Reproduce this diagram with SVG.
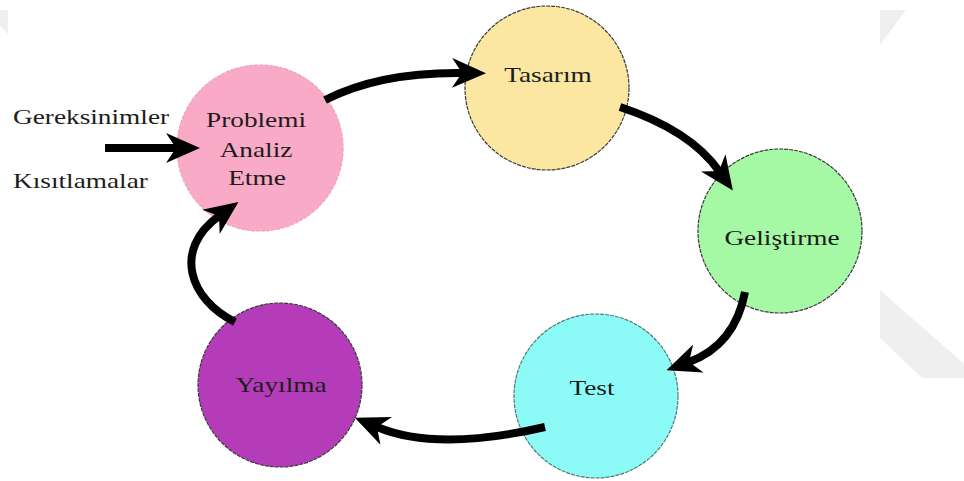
<svg xmlns="http://www.w3.org/2000/svg" width="964" height="481" viewBox="0 0 964 481">
  <style>
    .node circle { stroke: #3a3a3a; stroke-width: 1.2; stroke-dasharray: 4 1; }
    text { font-size: 21px; fill: #1c1c1c; }
    .label { text-anchor: middle; }
    .arrow { fill: none; stroke: #000; stroke-width: 8; marker-end: url(#head); }
    .mark { fill: #efefef; }
  </style>
  <defs>
    <marker id="head" viewBox="0 0 34 30" refX="10" refY="15" markerWidth="34" markerHeight="30" markerUnits="userSpaceOnUse" orient="auto">
      <path d="M0,0 L34,15 L0,30 L10,15 Z" fill="#000"/>
    </marker>
  </defs>
  <rect width="964" height="481" fill="#fff"/>

  <!-- faint corner shapes -->
  <polygon class="mark" points="880,10 906,10 880,45"/>
  <polygon class="mark" points="880,290 964,364 964,378 922,378 880,338"/>
  <polygon class="mark" points="0,10 8,10 8,34 0,26"/>

  <!-- side labels, widened horizontally -->
  <g font-family="Liberation Serif, Times New Roman, serif">
    <text transform="translate(13,124) scale(1.3,1)">Gereksinimler</text>
    <text transform="translate(13,188) scale(1.3,1)">Kısıtlamalar</text>

    <g id="problemi-analiz" class="node">
      <circle cx="260" cy="148" r="83" fill="#F9AAC6" style="stroke:#f0a0bc"/>
      <text class="label" transform="translate(256,127) scale(1.3,1)">Problemi</text>
      <text class="label" transform="translate(256,157) scale(1.3,1)">Analiz</text>
      <text class="label" transform="translate(257,185) scale(1.3,1)">Etme</text>
    </g>

    <g id="tasarim" class="node">
      <circle cx="547" cy="88" r="82" fill="#FBE7A2"/>
      <text class="label" transform="translate(548,82) scale(1.3,1)">Tasarım</text>
    </g>

    <g id="gelistirme" class="node">
      <circle cx="780" cy="231" r="82" fill="#A5F8A4"/>
      <text class="label" transform="translate(782,245) scale(1.3,1)">Geliştirme</text>
    </g>

    <g id="test" class="node">
      <circle cx="596" cy="396" r="82" fill="#8CFBF8" style="stroke:#4a7a7a"/>
      <text class="label" transform="translate(592,395) scale(1.3,1)">Test</text>
    </g>

    <g id="yayilma" class="node">
      <circle cx="280" cy="385" r="82" fill="#B53CB8"/>
      <text class="label" transform="translate(281,392) scale(1.3,1)">Yayılma</text>
    </g>
  </g>

  <g id="connectors">
    <path class="arrow" d="M105,148 L176,148"/>
    <path class="arrow" d="M325,100 Q380,72 462,73"/>
    <path class="arrow" d="M620,107 Q690,130 719,171"/>
    <path class="arrow" d="M745,292 Q735,345 689,362"/>
    <path class="arrow" d="M545,427 C480,442 420,445 377,427"/>
    <path class="arrow" d="M235,322 C190,300 172,250 219,216"/>
  </g>
</svg>
